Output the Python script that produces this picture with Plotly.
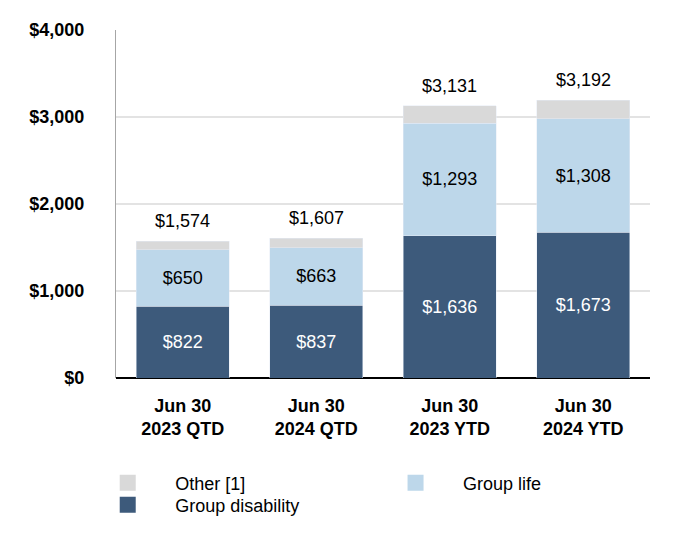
import plotly.graph_objects as go

categories = ["Jun 30<br>2023 QTD", "Jun 30<br>2024 QTD", "Jun 30<br>2023 YTD", "Jun 30<br>2024 YTD"]
group_disability = [822, 837, 1636, 1673]
group_life = [650, 663, 1293, 1308]
other = [102, 107, 202, 211]
totals = [1574, 1607, 3131, 3192]

FONT = "Liberation Sans, Arial, sans-serif"
C_DIS = "#3D5A7B"
C_LIFE = "#BDD7EA"
C_OTHER = "#D9D9D9"

fig = go.Figure()
fig.add_trace(go.Bar(
    x=categories, y=group_disability, name="Group disability",
    marker_color=C_DIS, showlegend=False,
    text=[f"${v:,}" for v in group_disability], textposition="inside",
    insidetextanchor="middle",
    textfont=dict(color="white", size=18, family=FONT),
))
fig.add_trace(go.Bar(
    x=categories, y=group_life, name="Group life",
    marker_color=C_LIFE, showlegend=False,
    text=[f"${v:,}" for v in group_life], textposition="inside",
    insidetextanchor="middle",
    textfont=dict(color="black", size=18, family=FONT),
))
fig.add_trace(go.Bar(
    x=categories, y=other, name="Other [1]",
    marker_color=C_OTHER, showlegend=False,
))

# legend-only entries (square swatches)
for name, color, leg in [("Other [1]", C_OTHER, "legend"),
                         ("Group life", C_LIFE, "legend2"),
                         ("Group disability", C_DIS, "legend3")]:
    fig.add_trace(go.Scatter(
        x=[None], y=[None], mode="markers", name=name,
        marker=dict(symbol="square", size=18, color=color),
        legend=leg, showlegend=True, hoverinfo="skip",
    ))

for c, t in zip(categories, totals):
    fig.add_annotation(
        x=c, y=t, text=f"${t:,}", showarrow=False,
        yanchor="middle", yshift=20,
        font=dict(color="black", size=18, family=FONT),
    )

leg_common = dict(
    orientation="v", xanchor="left", yanchor="middle",
    font=dict(size=18, family=FONT, color="black"),
    itemwidth=85, bgcolor="rgba(0,0,0,0)",
)

fig.update_layout(
    width=680, height=556,
    barmode="stack", bargap=0.30,
    paper_bgcolor="white", plot_bgcolor="white",
    margin=dict(l=108, r=38, t=22, b=186),
    font=dict(family=FONT, color="black"),
    legend=dict(x=-0.067, y=-0.302, **leg_common),
    legend2=dict(x=0.472, y=-0.302, **leg_common),
    legend3=dict(x=-0.067, y=-0.365, **leg_common),
)
fig.update_xaxes(
    showgrid=False, showline=False, ticks="", automargin=False,
    tickfont=dict(size=18, family=FONT, color="black", weight="bold"),
    ticklabelstandoff=15,
)
fig.update_yaxes(
    range=[0, 4000], dtick=1000, tickprefix="$", tickformat=",.0f",
    showgrid=True, gridcolor="#E3E3E3", gridwidth=2,
    showline=True, linecolor="#A6A6A6", linewidth=1,
    zeroline=True, zerolinecolor="black", zerolinewidth=2,
    tickfont=dict(size=18, family=FONT, color="black", weight="bold"),
    ticks="", ticklabelstandoff=27, automargin=False,
)

fig.write_html("out.html")
